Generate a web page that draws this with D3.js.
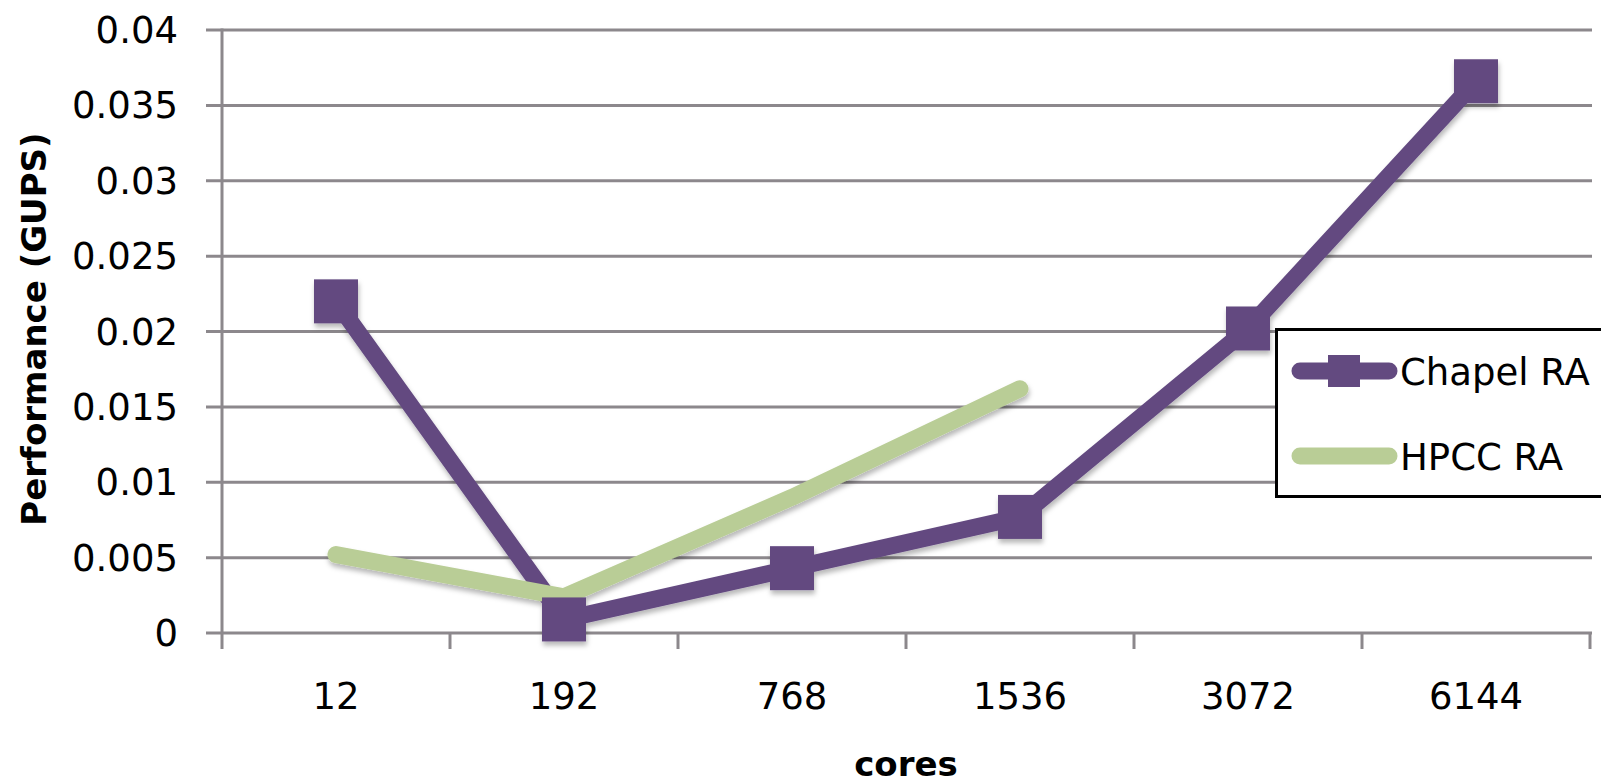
<!DOCTYPE html>
<html>
<head>
<meta charset="utf-8">
<script src="https://cdn.jsdelivr.net/npm/d3@7"></script>
<style>
  html, body { margin: 0; padding: 0; background: #fff; }
  svg { display: block; }
  text { font-family: "DejaVu Sans", sans-serif; fill: #000; }
</style>
</head>
<body>
<svg id="chart" width="1601" height="784"></svg>
<script>
// Random Access benchmark performance by core count
const cores = ["12", "192", "768", "1536", "3072", "6144"];
const chapelRA = [0.0220, 0.0009, 0.0043, 0.0077, 0.0202, 0.0366];
const hpccRA = [0.0052, 0.0024, 0.0090, 0.0162];
const yTicks = [0, 0.005, 0.01, 0.015, 0.02, 0.025, 0.03, 0.035, 0.04];
const yTickLabels = ["0", "0.005", "0.01", "0.015", "0.02", "0.025", "0.03", "0.035", "0.04"];
const seriesNames = ["Chapel RA", "HPCC RA"];

const purple = "#634a80";
const green = "#b9cd96";
const gridColor = "#8c888c";

const svg = d3.select("#chart");

const x = d3.scaleBand().domain(cores).range([222, 1590]).padding(0);
const y = d3.scaleLinear().domain([0, 0.04]).range([633, 30]);

// soft drop shadow under the series
const defs = svg.append("defs");
const f = defs.append("filter").attr("id", "shadow")
  .attr("x", "-20%").attr("y", "-20%").attr("width", "140%").attr("height", "140%");
f.append("feDropShadow").attr("dx", 1).attr("dy", 4).attr("stdDeviation", 2.5)
  .attr("flood-color", "#000").attr("flood-opacity", 0.28);

// horizontal gridlines (extending left as tick marks)
svg.append("g").selectAll("line").data(yTicks).join("line")
  .attr("x1", 206).attr("x2", 1592)
  .attr("y1", d => y(d)).attr("y2", d => y(d))
  .attr("stroke", gridColor).attr("stroke-width", 3);

// y axis line
svg.append("line")
  .attr("x1", x.range()[0]).attr("x2", x.range()[0])
  .attr("y1", y(0.04) - 1.5).attr("y2", y(0) + 16)
  .attr("stroke", gridColor).attr("stroke-width", 3);

// x axis category boundary ticks
const boundaries = cores.map(c => x(c)).concat([x.range()[1]]);
svg.append("g").selectAll("line").data(boundaries.slice(1)).join("line")
  .attr("x1", d => d).attr("x2", d => d)
  .attr("y1", y(0)).attr("y2", y(0) + 16)
  .attr("stroke", gridColor).attr("stroke-width", 3);

// y tick labels
svg.append("g").selectAll("text").data(yTicks).join("text")
  .attr("x", 178).attr("y", d => y(d) + 13)
  .attr("text-anchor", "end").attr("font-size", 37)
  .text((d, i) => yTickLabels[i]);

// x tick labels
svg.append("g").selectAll("text").data(cores).join("text")
  .attr("x", d => x(d) + x.bandwidth() / 2).attr("y", 709)
  .attr("text-anchor", "middle").attr("font-size", 37)
  .text(d => d);

// axis titles
svg.append("text")
  .attr("transform", "translate(46,329) rotate(-90)")
  .attr("text-anchor", "middle").attr("font-size", 34).attr("font-weight", "bold")
  .text("Performance (GUPS)");
svg.append("text")
  .attr("x", 906).attr("y", 776)
  .attr("text-anchor", "middle").attr("font-size", 34).attr("font-weight", "bold")
  .text("cores");

const cx = c => x(c) + x.bandwidth() / 2;
const line = d3.line().x(d => cx(d[0])).y(d => y(d[1]));

const series = svg.append("g").attr("filter", "url(#shadow)");

// Chapel RA line
series.append("path")
  .attr("d", line(cores.map((c, i) => [c, chapelRA[i]])))
  .attr("fill", "none").attr("stroke", purple).attr("stroke-width", 17)
  .attr("stroke-linejoin", "round").attr("stroke-linecap", "round");

// HPCC RA line
series.append("path")
  .attr("d", line(hpccRA.map((v, i) => [cores[i], v])))
  .attr("fill", "none").attr("stroke", green).attr("stroke-width", 17)
  .attr("stroke-linejoin", "round").attr("stroke-linecap", "round");

// Chapel RA square markers
const m = 44;
series.append("g").selectAll("rect").data(chapelRA).join("rect")
  .attr("x", (d, i) => cx(cores[i]) - m / 2)
  .attr("y", d => y(d) - m / 2)
  .attr("width", m).attr("height", m)
  .attr("fill", purple);

// legend
const lg = svg.append("g");
lg.append("rect").attr("x", 1276.5).attr("y", 329.5).attr("width", 340).attr("height", 167)
  .attr("fill", "#fff").attr("stroke", "#000").attr("stroke-width", 3);
const legendRows = [
  { name: seriesNames[0], color: purple, marker: true, cy: 371 },
  { name: seriesNames[1], color: green, marker: false, cy: 456 }
];
legendRows.forEach(r => {
  lg.append("line").attr("x1", 1300).attr("x2", 1389).attr("y1", r.cy).attr("y2", r.cy)
    .attr("stroke", r.color).attr("stroke-width", 17).attr("stroke-linecap", "round");
  if (r.marker) {
    lg.append("rect").attr("x", 1328).attr("y", r.cy - 16).attr("width", 32).attr("height", 32)
      .attr("fill", r.color);
  }
  lg.append("text").attr("x", 1400).attr("y", r.cy + 14).attr("font-size", 37).text(r.name);
});
</script>
</body>
</html>
